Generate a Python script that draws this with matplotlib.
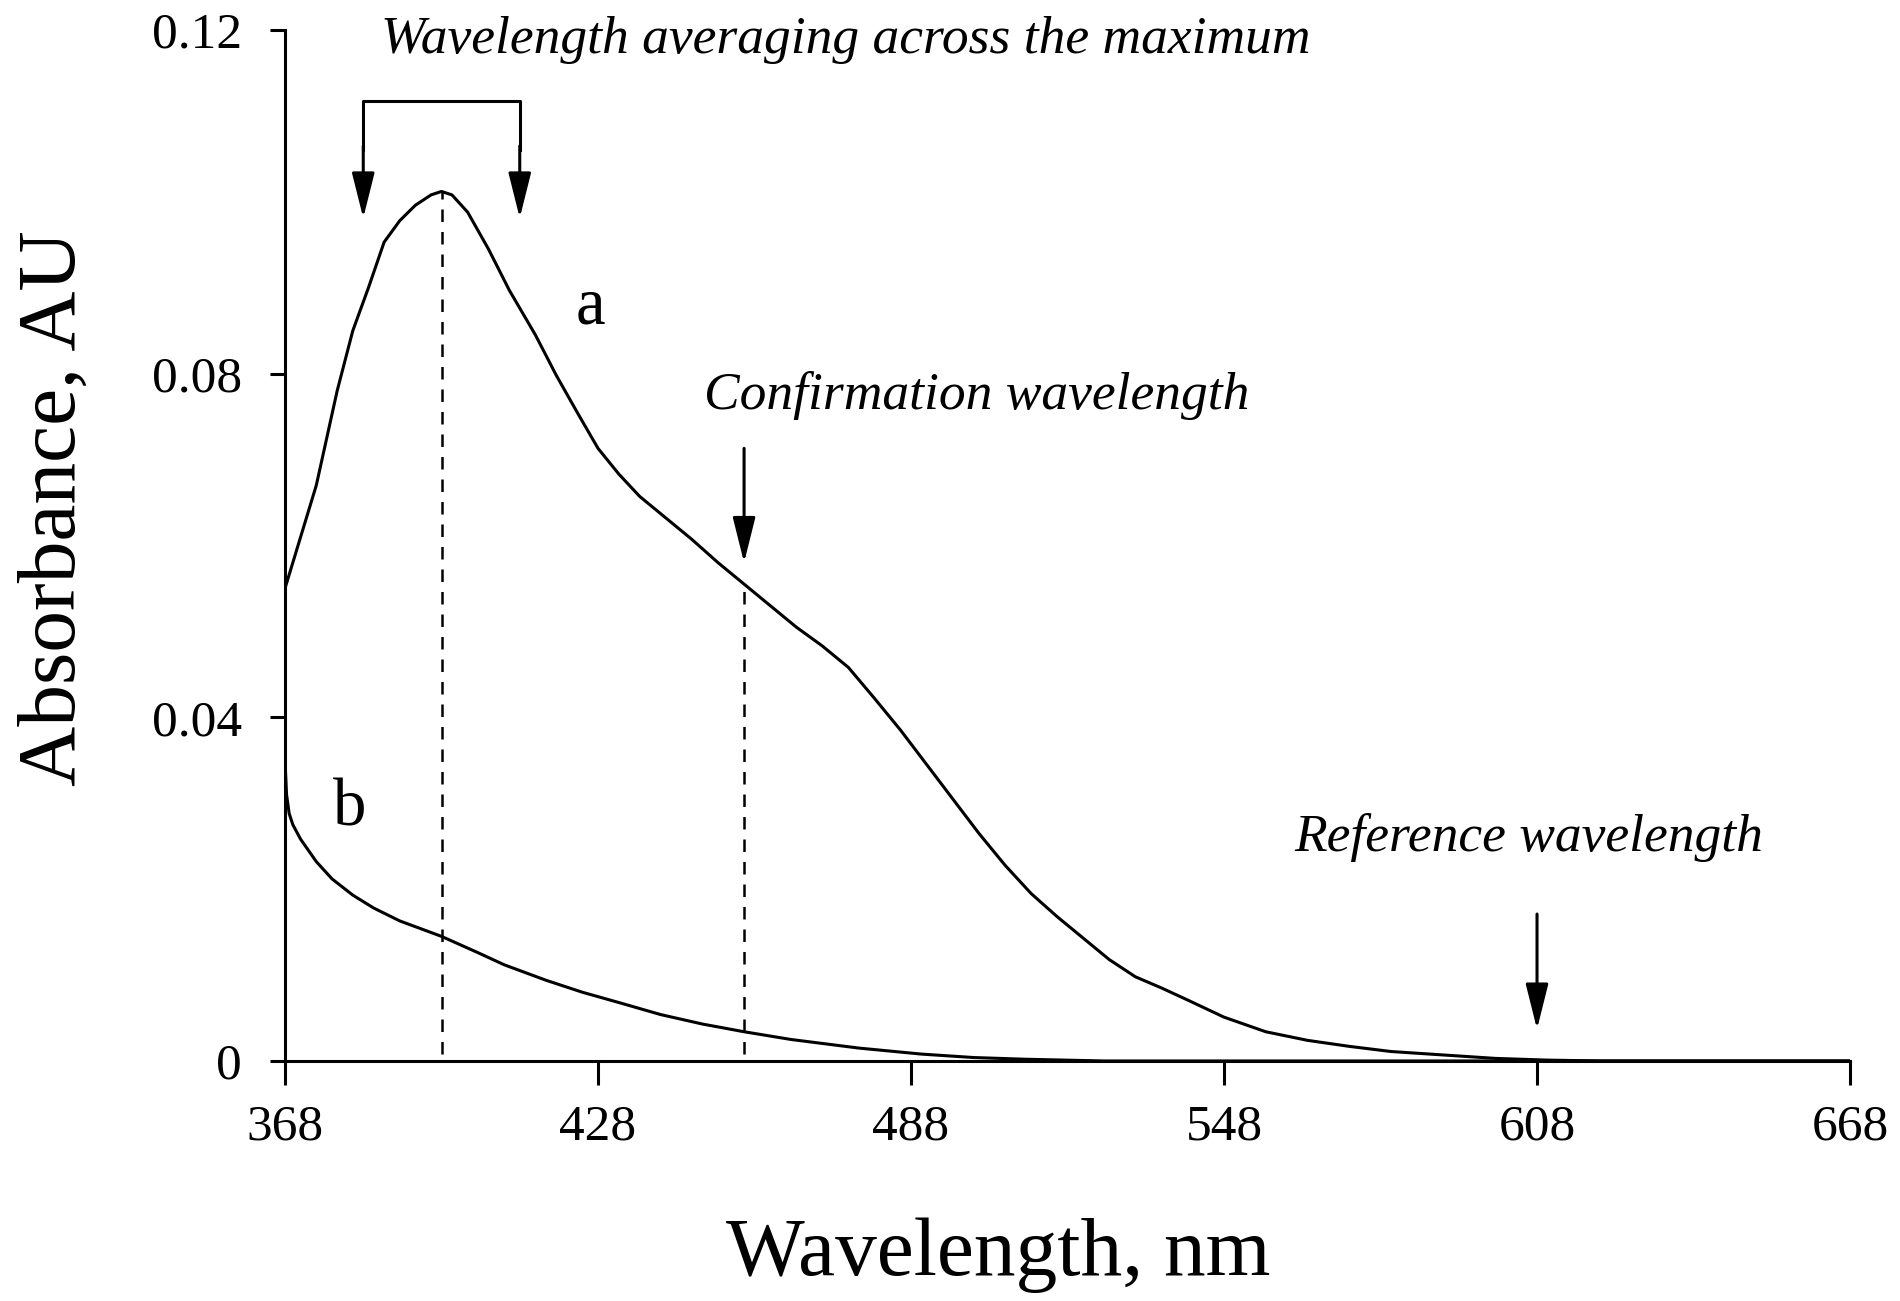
import numpy as np
import matplotlib
matplotlib.use('Agg')
import matplotlib.pyplot as plt

# spectrum a (sample)
wl_a = [368, 370, 374, 378, 381, 384, 387, 390, 393, 396, 398, 400, 403, 407,
        411, 416, 420, 424, 428, 432, 436, 441, 446, 451, 456, 461, 466, 471,
        476, 481, 486, 491, 496, 501, 506, 511, 516, 521, 526, 531, 536, 541,
        548, 556, 564, 572, 580, 590, 600, 610, 620, 668]
abs_a = [0.055, 0.059, 0.067, 0.078, 0.085, 0.090, 0.0953, 0.0978, 0.0996,
         0.1008, 0.1012, 0.1008, 0.0988, 0.0945, 0.0897, 0.0845, 0.0798,
         0.0755, 0.0713, 0.0683, 0.0657, 0.0632, 0.0607, 0.0580, 0.0555,
         0.0530, 0.0505, 0.0483, 0.0458, 0.0422, 0.0385, 0.0345, 0.0305,
         0.0265, 0.0228, 0.0195, 0.0168, 0.0143, 0.0118, 0.0098, 0.0085,
         0.0071, 0.0051, 0.0034, 0.0024, 0.0017, 0.0011, 0.0007, 0.0003,
         0.0001, 0.0, 0.0]

# spectrum b (blank)
wl_b = [368, 368.3, 368.8, 369.5, 371, 374, 377, 381, 385, 390, 398, 405, 410,
        418, 425, 432, 440, 448, 456, 465, 478, 490, 500, 510, 525, 668]
abs_b = [0.035, 0.031, 0.0288, 0.0275, 0.0258, 0.0232, 0.0212, 0.0193, 0.0178,
         0.0163, 0.0145, 0.0126, 0.0112, 0.0094, 0.0080, 0.0068, 0.0054,
         0.0043, 0.0034, 0.0025, 0.0015, 0.0008, 0.0004, 0.0002, 0.0, 0.0]

x_ticks = [368, 428, 488, 548, 608, 668]
y_ticks = [0, 0.04, 0.08, 0.12]
y_tick_labels = ['0', '0.04', '0.08', '0.12']

peak_wl = 398
avg_half_width = 15
confirm_wl = 456
ref_wl = 608

plt.rcParams['font.family'] = ['Liberation Serif', 'DejaVu Serif']

fig = plt.figure(figsize=(19, 13.01), dpi=100)
ax = fig.add_axes([0.15, 0.1845, 0.8237, 0.7925])

ax.plot(wl_a, abs_a, color='black', lw=2.2)
ax.plot(wl_b, abs_b, color='black', lw=2.2)

# dashed markers
peak_abs = np.interp(peak_wl, wl_a, abs_a)
conf_abs = np.interp(confirm_wl, wl_a, abs_a)
ax.vlines([peak_wl, confirm_wl], 0.0008, [peak_abs, conf_abs],
          colors='black', linestyles=(0, (5, 4)), lw=1.8)

ax.set_xlim(368, 668)
ax.set_ylim(0, 0.12)
ax.set_xticks(x_ticks)
ax.set_xticklabels([str(t) for t in x_ticks])
ax.set_yticks(y_ticks)
ax.set_yticklabels(y_tick_labels)

for s in ['top', 'right']:
    ax.spines[s].set_visible(False)
for s in ['left', 'bottom']:
    ax.spines[s].set_linewidth(2.2)
ax.tick_params(axis='x', length=17, width=2.2, pad=14, labelsize=37)
ax.tick_params(axis='y', length=11, width=2.2, pad=20, labelsize=37)

ax.set_xlabel('Wavelength, nm', fontsize=60)
ax.set_ylabel('Absorbance, AU', fontsize=60)
ax.xaxis.set_label_coords(0.456, -0.152)
ax.yaxis.set_label_coords(-0.123, 0.536)

arrow_kw = dict(arrowstyle='-|>,head_length=2.8,head_width=0.7',
                color='black', lw=2.2, shrinkA=0, shrinkB=0)

# averaging bracket
left_wl = peak_wl - avg_half_width
right_wl = peak_wl + avg_half_width
bracket_y = 0.1117
ax.plot([left_wl, left_wl, right_wl, right_wl],
        [0.106, bracket_y, bracket_y, 0.106], color='black', lw=2.2)
for w in (left_wl, right_wl):
    ax.annotate('', xy=(w, 0.0981), xytext=(w, 0.1065), arrowprops=arrow_kw)
ax.text(475.5, 0.1188, 'Wavelength averaging across the maximum',
        style='italic', fontsize=38.5, ha='center', va='center')

# confirmation wavelength
ax.annotate('', xy=(confirm_wl, conf_abs + 0.0025), xytext=(confirm_wl, 0.0713),
            arrowprops=arrow_kw)
ax.text(500.6, 0.0774, 'Confirmation wavelength',
        style='italic', fontsize=38.5, ha='center', va='center')

# reference wavelength
ax.annotate('', xy=(ref_wl, 0.0037), xytext=(ref_wl, 0.0171),
            arrowprops=arrow_kw)
ax.text(606.5, 0.0260, 'Reference wavelength',
        style='italic', fontsize=38.5, ha='center', va='center')

# curve labels
ax.text(426.5, 0.0878, 'a', fontsize=48, ha='center', va='center')
ax.text(380.3, 0.0293, 'b', fontsize=48, ha='center', va='center')

fig.savefig('out.png', dpi=100)
